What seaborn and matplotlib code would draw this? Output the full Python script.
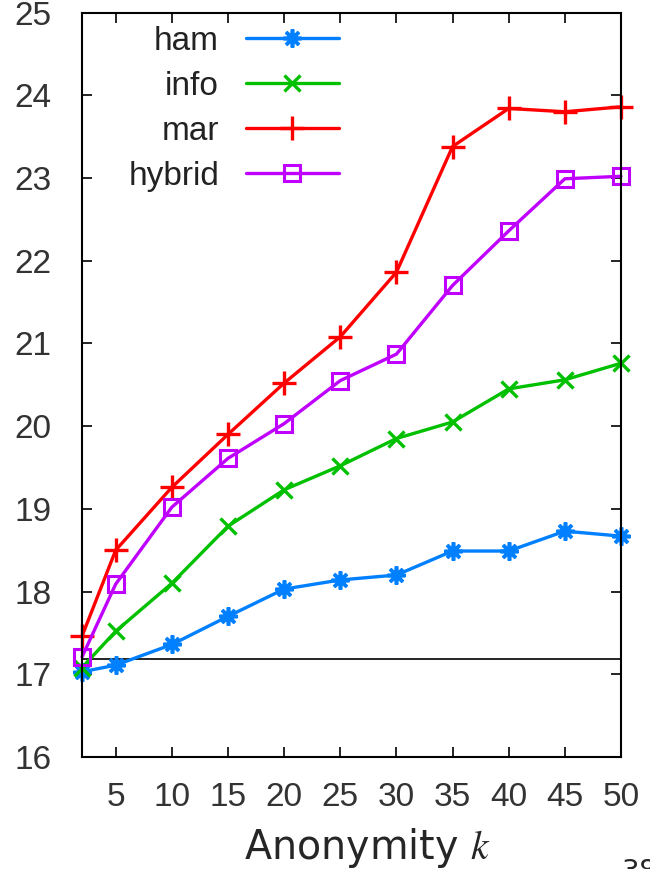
import matplotlib
matplotlib.use("Agg")
import matplotlib.pyplot as plt
import seaborn as sns
import pandas as pd

# ---- data ----
k_values = [2, 5, 10, 15, 20, 25, 30, 35, 40, 45, 50]
ham = [17.03, 17.11, 17.36, 17.70, 18.03, 18.14, 18.20, 18.49, 18.49, 18.73, 18.67]
info = [17.08, 17.52, 18.10, 18.79, 19.23, 19.52, 19.85, 20.05, 20.45, 20.56, 20.76]
mar = [17.46, 18.50, 19.26, 19.90, 20.52, 21.08, 21.86, 23.38, 23.84, 23.80, 23.86]
hybrid = [17.21, 18.09, 19.02, 19.61, 20.03, 20.55, 20.87, 21.70, 22.36, 22.99, 23.02]
baseline = 17.19
series_names = ["ham", "info", "mar", "hybrid"]
x_ticks = [5, 10, 15, 20, 25, 30, 35, 40, 45, 50]
y_ticks = [16, 17, 18, 19, 20, 21, 22, 23, 24, 25]

sns.set_style("ticks")
plt.rcParams["font.family"] = ["Liberation Sans", "DejaVu Sans"]
plt.rcParams["mathtext.fontset"] = "stix"

fig = plt.figure(figsize=(6.5, 8.69), dpi=100)
ax = fig.add_axes([82 / 650, 1 - 757 / 869, (621 - 82) / 650, (757 - 12.5) / 869])

df = pd.DataFrame({"k": k_values, "ham": ham, "info": info, "mar": mar, "hybrid": hybrid})

styles = {
    "ham": dict(color="#0080ff", marker=(8, 2, 0), markersize=13, mew=2.6),
    "info": dict(color="#00c000", marker="x", markersize=12, mew=2.4),
    "mar": dict(color="#ff0000", marker="+", markersize=17, mew=2.4),
    "hybrid": dict(color="#c000ff", marker="s", markersize=11, mew=2.2, markerfacecolor="none"),
}

for name in series_names:
    st = styles[name]
    sns.lineplot(data=df, x="k", y=name, ax=ax, label=name, linewidth=2.4,
                 color=st["color"], marker=st["marker"], markersize=st["markersize"],
                 markeredgewidth=st["mew"], markeredgecolor=st["color"],
                 markerfacecolor=st.get("markerfacecolor", st["color"]), clip_on=False)

ax.axhline(baseline, color="black", linewidth=1.2, zorder=1)

ax.set_xlim(2, 50)
ax.set_ylim(16, 25)
ax.set_xticks(x_ticks)
ax.set_yticks(y_ticks)
ax.tick_params(axis="both", direction="in", length=7, width=1.2, labelsize=24,
               top=True, right=True, colors="black")
ax.tick_params(axis="y", pad=22, labelcolor="#333333")
ax.tick_params(axis="x", pad=18, labelcolor="#333333")
for sp in ax.spines.values():
    sp.set_linewidth(1.5)
    sp.set_color("black")

ax.set_ylabel("")
ax.set_xlabel("Anonymity $k$", fontsize=28.5, family="DejaVu Sans")
ax.xaxis.label.set_va("baseline")
ax.xaxis.set_label_coords(0.529, -(859 - 757) / 744.5)

leg = ax.legend(loc="upper right", bbox_to_anchor=(339 / 650, 1 - 26 / 869),
                bbox_transform=fig.transFigure, frameon=False, markerfirst=False,
                fontsize=24, handlelength=2.8, handletextpad=0.8, labelspacing=0.42,
                borderpad=0, borderaxespad=0)
for t in leg.get_texts():
    t.set_color("#222222")

fig.text(622 / 650, 1 - 858 / 869, "38", fontsize=20, va="top", ha="left",
         family="DejaVu Sans")

fig.savefig("out.png", dpi=100)
